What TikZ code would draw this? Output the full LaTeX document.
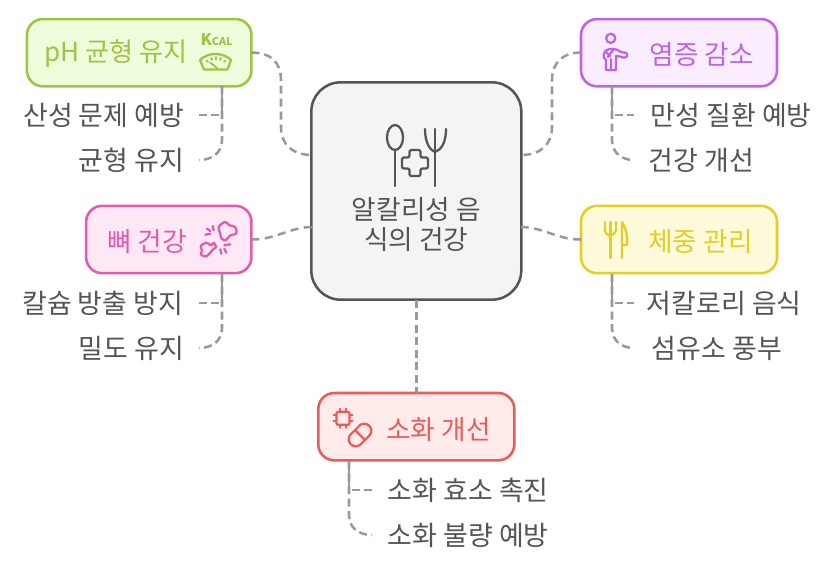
\documentclass[tikz,border=0pt]{standalone}
\usepackage{fontspec}
\setmainfont{Noto Sans CJK KR}
\usepackage{xcolor}
\definecolor{hubInk}{HTML}{555555}
\definecolor{hubBg}{HTML}{F4F4F4}
\definecolor{linkGray}{HTML}{999999}
\definecolor{phInk}{HTML}{9BC63F}
\definecolor{phBg}{HTML}{F0FDDD}
\definecolor{boneInk}{HTML}{E35BAE}
\definecolor{boneBg}{HTML}{FEE8F6}
\definecolor{calmInk}{HTML}{BE64E8}
\definecolor{calmBg}{HTML}{F9EDFF}
\definecolor{weightInk}{HTML}{E5CE1E}
\definecolor{weightBg}{HTML}{FFFADC}
\definecolor{gutInk}{HTML}{EA5B5B}
\definecolor{gutBg}{HTML}{FFEBEA}
\usepackage{tikz}
\usetikzlibrary{positioning,calc}
\tikzset{%
  hubBox/.style={%
    rectangle,
    rounded corners=22pt,
    draw=hubInk,
    fill=hubBg,
    line width=1.9pt,
    outer sep=0pt,
    minimum width=157.5pt,
    minimum height=163pt
  },
  topicBox/.style={%
    rectangle,
    rounded corners=12pt,
    line width=1.9pt,
    outer sep=0pt,
    minimum height=50.5pt
  },
  topicText/.style={%
    font=\fontsize{20pt}{22.5pt}\selectfont,
    inner sep=0pt
  },
  itemText/.style={%
    font=\fontsize{20.2pt}{22pt}\selectfont,
    text=hubInk,
    inner xsep=11pt,
    inner ysep=0pt,
    text height=18.5pt,
    text depth=3pt
  },
  linkLine/.style={%
    draw=linkGray,
    line width=1.9pt,
    dash pattern=on 6pt off 3.4pt
  },
  itemTurn/.style={%
    draw=linkGray,
    line width=1.9pt,
    dash pattern=on 6pt off 3.4pt,
    dash phase=4.5pt
  },
  iconLine/.style={%
    line width=1.7pt,
    line cap=round,
    line join=round
  }
}
\begin{document}
\begin{tikzpicture}[x=0.75pt,y=-0.75pt]
  \useasboundingbox (0,0) rectangle (831,561);

  % boxes
  \node[hubBox] (hub) at (416.3,191) {};
  \node[topicBox, draw=phInk, fill=phBg, minimum width=168.4pt] (ph) at (139.2,52.7) {};
  \node[topicBox, draw=boneInk, fill=boneBg, minimum width=124pt, below=89.6pt of ph.south east, anchor=north east] (bone) {};
  \node[topicBox, draw=calmInk, fill=calmBg, minimum width=147pt] (calm) at (679,52.7) {};
  \node[topicBox, draw=weightInk, fill=weightBg, minimum width=147pt, below=89.6pt of calm] (weight) {};
  \node[topicBox, draw=gutInk, fill=gutBg, minimum width=147pt, below=70pt of hub] (gut) {};

  % box texts
  \node[topicText, text=hubInk, align=center] (hubText) at (416.3,225) {알칼리성 음\\식의 건강};
  \node[topicText, text=phInk, font=\fontsize{19.6pt}{22pt}\selectfont] (phText) at (116,54) {pH 균형 유지};
  \node[topicText, text=boneInk] (boneText) at (147,242) {뼈 건강};
  \node[topicText, text=calmInk] (calmText) at (702,54) {염증 감소};
  \node[topicText, text=weightInk] (weightText) at (700.5,242) {체중 관리};
  \node[topicText, text=gutInk] (gutText) at (438.5,429.5) {소화 개선};

  % items
  \node[itemText, anchor=east] (acid) at (199,115) {산성 문제 예방};
  \node[itemText, anchor=east] (balance) at (199,160) {균형 유지};
  \node[itemText, anchor=east] (calcium) at (198,303) {칼슘 방출 방지};
  \node[itemText, anchor=east] (density) at (199,348) {밀도 유지};
  \node[itemText, anchor=west] (chronic) at (636,115) {만성 질환 예방};
  \node[itemText, anchor=west] (better) at (634,160) {건강 개선};
  \node[itemText, anchor=west] (lowCal) at (632,303) {저칼로리 음식};
  \node[itemText, anchor=west] (fiber) at (637,348) {섬유소 풍부};
  \node[itemText, anchor=west] (enzyme) at (373,490) {소화 효소 촉진};
  \node[itemText, anchor=west] (upset) at (373,535) {소화 불량 예방};

  \coordinate (phFoot) at (222,86);
  \coordinate (boneFoot) at (222,274);
  \coordinate (calmFoot) at (612,86);
  \coordinate (weightFoot) at (612,274);
  \coordinate (gutFoot) at (349,461);
  \coordinate (chronicEnd) at (634,115);
  \coordinate (lowCalEnd) at (634,303);
  \coordinate (betterEnd) at (634,160);
  \coordinate (fiberEnd) at (634,348);
  \coordinate (enzymeEnd) at (372,490);
  \coordinate (upsetEnd) at (372,535);
  \coordinate (hubUpLeft) at (312,155);
  \coordinate (hubLowLeft) at (312,227);
  \coordinate (hubUpRight) at (521,155);
  \coordinate (hubLowRight) at (521,227);

  % hub links
  \draw[linkLine, dash pattern=on 6pt off 3.7pt] (ph.east) .. controls (270,52) and (281,62) .. (281,80) -- (281,127) .. controls (281,145) and (293,155) .. (hubUpLeft);
  \draw[linkLine, dash pattern=on 6pt off 4.1pt] (bone.east) .. controls (275,240) and (290,227) .. (hubLowLeft);
  \draw[linkLine, dash pattern=on 6pt off 3.7pt] (calm.west) .. controls (564,52) and (552,62) .. (552,80) -- (552,127) .. controls (552,145) and (540,155) .. (hubUpRight);
  \draw[linkLine, dash pattern=on 6pt off 4.1pt] (weight.west) .. controls (558,240) and (543,227) .. (hubLowRight);
  \draw[linkLine] (hub.south) -- (gut.north);

  % item links
  \draw[itemTurn] (phFoot) |- (acid.east);
  \draw[linkLine] (phFoot) -- (222,140) .. controls (222,153) and (212,160) .. (balance.east);
  \draw[itemTurn] (boneFoot) |- (calcium.east);
  \draw[linkLine] (boneFoot) -- (222,328) .. controls (222,341) and (212,348) .. (density.east);
  \draw[itemTurn] (calmFoot) |- (chronicEnd);
  \draw[linkLine] (calmFoot) -- (612,140) .. controls (612,153) and (622,160) .. (betterEnd);
  \draw[itemTurn] (weightFoot) |- (lowCalEnd);
  \draw[linkLine] (weightFoot) -- (612,328) .. controls (612,341) and (622,348) .. (fiberEnd);
  \draw[itemTurn] (gutFoot) |- (enzymeEnd);
  \draw[linkLine] (gutFoot) -- (349,515) .. controls (349,528) and (359,535) .. (upsetEnd);

  % hub icon
  \draw[iconLine, draw=hubInk] (395,137.5) ellipse (8 and 12.5);
  \draw[iconLine, draw=hubInk] (395,150) -- (395,186);
  \draw[iconLine, draw=hubInk] (425,129) .. controls (425,143) and (430,150) .. (435,152) .. controls (441,150) and (446,143) .. (446,129);
  \draw[iconLine, draw=hubInk] (435,129) -- (435,186);
  \draw[iconLine, draw=hubInk, rounded corners=1.5pt] (409.5,150) -- (420.5,150) -- (420.5,157.5) -- (428,157.5) -- (428,168.5) -- (420.5,168.5) -- (420.5,176) -- (409.5,176) -- (409.5,168.5) -- (402,168.5) -- (402,157.5) -- (409.5,157.5) -- cycle;

  % scale icon
  \node[text=phInk, inner sep=0pt, font=\bfseries] (kcal) at (216.5,39.5) {{\fontsize{12pt}{12pt}\selectfont K}{\fontsize{8pt}{12pt}\selectfont CAL}};
  \draw[iconLine, draw=phInk] (200,60) .. controls (208,52) and (223,52) .. (231,60) -- (227.5,69.5) -- (204,69.5) -- cycle;
  \draw[iconLine, draw=phInk, line width=1.3pt] (206.5,60.5) -- (208,62) (211,57.8) -- (212,60) (216,57) -- (216,59.5) (221,57.8) -- (220,60) (225.5,60.5) -- (224,62);
  \draw[iconLine, draw=phInk, line width=1.3pt] (210,62.5) -- (217.5,68.5);

  % bone icon
  \draw[iconLine, draw=boneInk] plot[smooth cycle, tension=.6] coordinates {(220.3,233.7) (218.7,227) (225.3,222) (229.3,225.3) (235.3,227) (236,233.7) (230.3,235.3) (225.3,240.3) (221.3,238)};
  \draw[iconLine, draw=boneInk] plot[smooth cycle, tension=.6] coordinates {(206,242.7) (200.7,246) (202,250.3) (201,254.7) (206,256.3) (209.3,253.7) (212.7,249.7) (216,247) (213.7,242.7) (211.3,245.3) (208.7,243.7)};
  \draw[iconLine, draw=boneInk] (205.3,234.7) -- (210.3,233.7) (207,228.7) -- (210.3,231) (212.7,226) -- (213.7,230.3);
  \draw[iconLine, draw=boneInk] (224.3,245.3) -- (230.3,244.3) (224.3,248.7) -- (226.3,252.7) (220.3,249.3) -- (221.3,253.7);

  % person icon
  \draw[iconLine, draw=calmInk] (610.7,38.3) circle (4.6 and 4.6);
  \draw[iconLine, draw=calmInk] (606,60) .. controls (602,58) and (603,50) .. (609,49) -- (613,49) .. controls (619,49) and (620,53) .. (624,52.5) .. controls (628,52) and (628,57) .. (625,57.5) .. controls (621,58) and (619,55) .. (616,56) -- (616,70) -- (606,70) -- cycle;
  \draw[iconLine, draw=calmInk] (611,59) -- (611,70) (606,52) -- (610,56) (613,50) -- (608,57);

  % cutlery icon
  \draw[iconLine, draw=weightInk] (605,222) -- (605,229) .. controls (605,233) and (607,235) .. (610,236) .. controls (613,235) and (616,233) .. (616,229) -- (616,222);
  \draw[iconLine, draw=weightInk] (610.5,222) -- (610.5,258);
  \draw[iconLine, draw=weightInk] (622,258) -- (622,222) .. controls (626,228) and (628,238) .. (627,245) -- (622,245);

  % chip icon
  \draw[iconLine, draw=gutInk, rounded corners=1pt] (336.5,411.8) rectangle (349.5,424.8);
  \draw[iconLine, draw=gutInk, line width=1.4pt] (340,408.5) -- (340,411) (346,408.5) -- (346,411) (340,425.5) -- (340,428) (346,425.5) -- (346,428) (333.5,415.3) -- (336,415.3) (333.5,421.3) -- (336,421.3) (350,415.3) -- (352.5,415.3) (350,421.3) -- (352.5,421.3);

  % pill icon
  \draw[iconLine, draw=gutInk, rounded corners=5pt, rotate around={45:(360,435)}] (347,428) rectangle (373,442);
  \draw[iconLine, draw=gutInk, rotate around={45:(360,435)}] (360,428) -- (360,442);
\end{tikzpicture}
\end{document}
